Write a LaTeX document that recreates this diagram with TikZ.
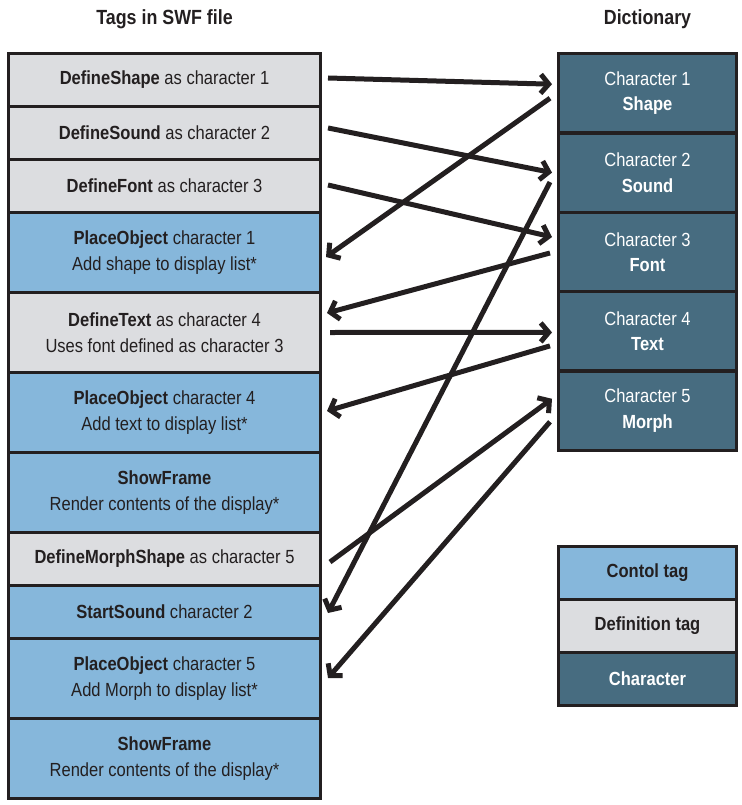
\documentclass[tikz,border=0pt]{standalone}
\usepackage{fontspec}
\setmainfont{Liberation Sans}[FakeStretch=0.87]
\usepackage{tikz}
\usetikzlibrary{positioning,arrows.meta}
\definecolor{inkc}{HTML}{231F20}
\definecolor{defc}{HTML}{DCDDE0}
\definecolor{ctlc}{HTML}{86B7DB}
\definecolor{charc}{HTML}{476C80}
\tikzset{
	box/.style={draw=inkc,line width=3.3pt,outer sep=0pt,inner sep=0pt,align=center,text=inkc},
	deftag/.style={box,fill=defc,minimum width=312pt},
	ctltag/.style={box,fill=ctlc,minimum width=312pt},
	chartag/.style={box,fill=charc,text=white,minimum width=178pt,minimum height=79.4pt},
	lineone/.style={minimum height=53pt},
	linetwo/.style={minimum height=80pt},
	head/.style={font=\fontsize{20.5pt}{24pt}\selectfont\bfseries,text=inkc},
	link/.style={draw=inkc,line width=5pt,-{Straight Barb[length=8pt,width=19pt]}}
}
\begin{document}
\begin{tikzpicture}[x=1pt,y=-1pt,font=\fontsize{19pt}{25.5pt}\selectfont]
	\useasboundingbox (0,0) rectangle (741,805);
	\begin{scope}
		% tags in the swf file
		\node(t1) [deftag,lineone,anchor=north west] at (8.5,53.5) {\textbf{DefineShape} as character 1};
		\node(t2) [deftag,lineone,below=0pt of t1] {\textbf{DefineSound} as character 2};
		\node(t3) [deftag,lineone,below=0pt of t2] {\textbf{DefineFont} as character 3};
		\node(t4) [ctltag,linetwo,below=0pt of t3] {\textbf{PlaceObject} character 1\\Add shape to display list*};
		\node(t5) [deftag,linetwo,below=0pt of t4] {\textbf{DefineText} as character 4\\Uses font defined as character 3};
		\node(t6) [ctltag,linetwo,below=0pt of t5] {\textbf{PlaceObject} character 4\\Add text to display list*};
		\node(t7) [ctltag,linetwo,below=0pt of t6] {\textbf{ShowFrame}\\Render contents of the display*};
		\node(t8) [deftag,lineone,below=0pt of t7] {\textbf{DefineMorphShape} as character 5};
		\node(t9) [ctltag,lineone,below=0pt of t8] {\textbf{StartSound} character 2};
		\node(t10) [ctltag,linetwo,below=0pt of t9] {\textbf{PlaceObject} character 5\\Add Morph to display list*};
		\node(t11) [ctltag,linetwo,below=0pt of t10] {\textbf{ShowFrame}\\Render contents of the display*};
		\node(h1) [head,above=29pt of t1.north,anchor=base] {Tags in SWF file};
	\end{scope}
	\begin{scope}
		% dictionary
		\node(d1) [chartag,anchor=north west] at (558.5,53.5) {Character 1\\\textbf{Shape}};
		\node(d2) [chartag,below=0pt of d1] {Character 2\\\textbf{Sound}};
		\node(d3) [chartag,below=0pt of d2] {Character 3\\\textbf{Font}};
		\node(d4) [chartag,below=0pt of d3] {Character 4\\\textbf{Text}};
		\node(d5) [chartag,below=0pt of d4] {Character 5\\\textbf{Morph}};
		\node(h2) [head,above=29pt of d1.north,anchor=base] {Dictionary};
		% legend
		\node(l1) [ctltag,lineone,minimum width=178pt,below=96pt of d5,font=\fontsize{19pt}{25.5pt}\selectfont\bfseries] {Contol tag};
		\node(l2) [deftag,lineone,minimum width=178pt,below=0pt of l1,font=\fontsize{19pt}{25.5pt}\selectfont\bfseries] {Definition tag};
		\node(l3) [chartag,lineone,below=0pt of l2,font=\fontsize{19pt}{25.5pt}\selectfont\bfseries] {Character};
	\end{scope}
	% definitions into the dictionary, characters back out to the tags
	\draw[link] ([xshift=7.5pt,yshift=2pt]t1.east) -- ([xshift=-6.5pt,yshift=9pt]d1.west);
	\draw[link] ([xshift=7.5pt,yshift=5pt]t2.east) -- ([xshift=-6.5pt]d2.west);
	\draw[link] ([xshift=7.5pt,yshift=1pt]t3.east) -- ([xshift=-6.5pt,yshift=15pt]d3.west);
	\draw[link] ([xshift=-8.5pt,yshift=-5pt]d1.west) -- ([xshift=5.5pt,yshift=-4.5pt]t4.east);
	\draw[link] ([xshift=-8.5pt,yshift=-1pt]d3.west) -- ([xshift=6.5pt,yshift=19.5pt]t5.east);
	\draw[link] ([xshift=9.5pt]t5.east) -- ([xshift=-6.5pt,yshift=-1pt]d4.west);
	\draw[link] ([xshift=-8.5pt,yshift=-14.5pt]d4.west) -- ([xshift=6.5pt,yshift=1.5pt]t6.east);
	\draw[link] ([xshift=9.5pt,yshift=-3pt]t8.east) -- ([xshift=-6.5pt,yshift=12pt]d5.west);
	\draw[link] ([xshift=-8.5pt,yshift=-9.5pt]d2.west) -- ([xshift=7.5pt,yshift=-1pt]t9.east);
	\draw[link] ([xshift=-8.5pt,yshift=-11pt]d5.west) -- ([xshift=7.5pt,yshift=0.5pt]t10.east);
\end{tikzpicture}
\end{document}
